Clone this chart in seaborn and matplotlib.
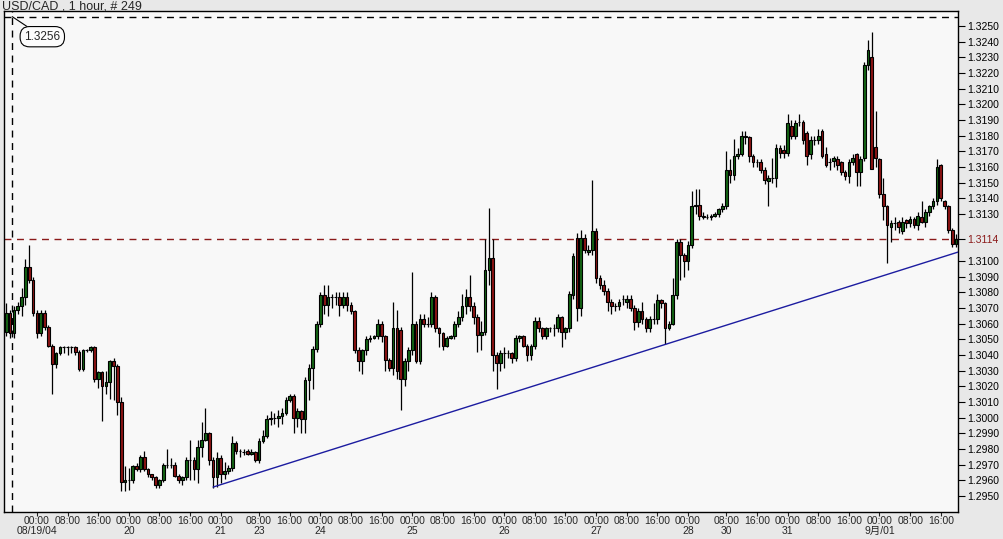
import matplotlib
matplotlib.use("Agg")
import matplotlib.pyplot as plt
import matplotlib.transforms as mtransforms
import seaborn as sns
import numpy as np
import pandas as pd

# USD/CAD 1 hour candles, prices x 10000
opens = [13055, 13067, 13054, 13069, 13071, 13077, 13096, 13088, 13067, 13054,
         13067, 13058, 13046, 13034, 13041, 13045, 13045, 13045, 13045, 13042,
         13031, 13043, 13043, 13045, 13025, 13029, 13020, 13023, 13036, 13033,
         13010, 12959, 12960, 12960, 12969, 12967, 12975, 12967, 12964, 12962,
         12957, 12960, 12970, 12970, 12970, 12963, 12960, 12962, 12973, 12973,
         12967, 12981, 12986, 12990, 12973, 12962, 12974, 12964, 12966, 12968,
         12984, 12979, 12978, 12979, 12977, 12978, 12973, 12985, 12988, 12999,
         13000, 13000, 13001, 13003, 13011, 13014, 13000, 13004, 12999, 13024,
         13032, 13044, 13060, 13078, 13072, 13077, 13077, 13077, 13072, 13077,
         13072, 13068, 13043, 13036, 13043, 13050, 13051, 13052, 13060, 13052,
         13037, 13032, 13057, 13056, 13025, 13036, 13043, 13060, 13036, 13063,
         13060, 13060, 13077, 13057, 13054, 13046, 13051, 13052, 13060, 13064,
         13071, 13077, 13071, 13064, 13053, 13055, 13094, 13102, 13040, 13035,
         13041, 13041, 13041, 13038, 13051, 13052, 13046, 13040, 13046, 13062,
         13057, 13052, 13057, 13057, 13057, 13064, 13055, 13057, 13078, 13115,
         13070, 13115, 13106, 13107, 13119, 13089, 13085, 13081, 13074, 13071,
         13071, 13076, 13074, 13076, 13070, 13061, 13068, 13063, 13057, 13063,
         13063, 13075, 13073, 13057, 13060, 13078, 13112, 13104, 13100, 13110,
         13135, 13136, 13129, 13128, 13128, 13129, 13130, 13133, 13135, 13158,
         13155, 13167, 13168, 13180, 13179, 13167, 13163, 13163, 13158, 13151,
         13153, 13153, 13172, 13171, 13169, 13186, 13180, 13189, 13189, 13182,
         13168, 13177, 13177, 13183, 13168, 13163, 13164, 13165, 13163, 13157,
         13154, 13163, 13168, 13157, 13166, 13225, 13230, 13173, 13165, 13143,
         13135, 13122, 13124, 13125, 13119, 13126, 13124, 13127, 13123, 13128,
         13125, 13131, 13135, 13138, 13161, 13138, 13135, 13120, 13111]
highs = [13073, 13069, 13071, 13074, 13083, 13101, 13110, 13090, 13069, 13069,
         13069, 13059, 13047, 13042, 13046, 13046, 13046, 13046, 13046, 13043,
         13044, 13044, 13046, 13046, 13030, 13030, 13030, 13037, 13038, 13034,
         13013, 12969, 12968, 12970, 12971, 12976, 12979, 12968, 12964, 12963,
         12961, 12971, 12980, 12974, 12972, 12964, 12963, 12975, 12986, 12975,
         12986, 12997, 13006, 12991, 12975, 12978, 12976, 12972, 12970, 12988,
         12985, 12980, 12980, 12980, 12980, 12979, 12987, 12992, 13002, 13004,
         13003, 13005, 13006, 13013, 13015, 13015, 13006, 13005, 13026, 13034,
         13046, 13062, 13080, 13085, 13085, 13079, 13080, 13080, 13080, 13080,
         13074, 13069, 13045, 13044, 13052, 13053, 13053, 13063, 13062, 13053,
         13038, 13074, 13069, 13058, 13038, 13045, 13093, 13062, 13066, 13066,
         13064, 13080, 13078, 13058, 13055, 13052, 13053, 13062, 13068, 13079,
         13082, 13091, 13074, 13066, 13062, 13114, 13134, 13114, 13042, 13043,
         13045, 13043, 13042, 13053, 13053, 13053, 13047, 13047, 13064, 13064,
         13058, 13058, 13058, 13060, 13066, 13065, 13058, 13081, 13105, 13118,
         13120, 13117, 13110, 13152, 13121, 13091, 13088, 13083, 13076, 13073,
         13076, 13078, 13078, 13078, 13072, 13070, 13074, 13064, 13065, 13073,
         13079, 13076, 13074, 13062, 13089, 13114, 13114, 13105, 13113, 13145,
         13146, 13146, 13131, 13130, 13130, 13131, 13134, 13137, 13170, 13165,
         13178, 13172, 13183, 13183, 13180, 13168, 13165, 13165, 13160, 13155,
         13166, 13175, 13174, 13174, 13194, 13190, 13190, 13194, 13190, 13183,
         13180, 13180, 13184, 13184, 13173, 13166, 13167, 13167, 13164, 13158,
         13165, 13168, 13169, 13167, 13227, 13241, 13246, 13196, 13166, 13153,
         13136, 13126, 13128, 13126, 13128, 13127, 13129, 13128, 13131, 13138,
         13133, 13136, 13140, 13165, 13162, 13139, 13136, 13121, 13117]
lows = [13052, 13051, 13051, 13066, 13065, 13072, 13086, 13065, 13051, 13052,
        13056, 13045, 13015, 13032, 13040, 13041, 13040, 13041, 13040, 13030,
        13030, 13042, 13042, 13023, 13019, 12998, 13015, 13012, 13011, 13002,
        12953, 12953, 12954, 12958, 12966, 12965, 12966, 12962, 12960, 12955,
        12955, 12959, 12968, 12968, 12962, 12958, 12957, 12960, 12960, 12960,
        12958, 12975, 12985, 12970, 12955, 12956, 12958, 12961, 12964, 12966,
        12977, 12975, 12976, 12976, 12976, 12972, 12971, 12984, 12987, 12995,
        12996, 12994, 12996, 13002, 13010, 12990, 12994, 12990, 12990, 13011,
        13018, 13042, 13058, 13066, 13065, 13070, 13072, 13065, 13070, 13068,
        13066, 13041, 13030, 13028, 13040, 13048, 13050, 13050, 13048, 13030,
        13030, 13027, 13025, 13005, 13020, 13030, 13040, 13035, 13034, 13058,
        13058, 13058, 13055, 13045, 13043, 13045, 13050, 13050, 13058, 13062,
        13066, 13068, 13060, 13042, 13043, 13053, 13085, 13030, 13018, 13030,
        13032, 13038, 13035, 13036, 13048, 13045, 13036, 13037, 13044, 13055,
        13050, 13050, 13055, 13052, 13055, 13045, 13050, 13055, 13076, 13062,
        13065, 13105, 13104, 13104, 13086, 13082, 13078, 13068, 13066, 13068,
        13069, 13072, 13070, 13068, 13056, 13058, 13060, 13055, 13055, 13060,
        13060, 13070, 13047, 13056, 13059, 13076, 13088, 13090, 13094, 13108,
        13130, 13126, 13127, 13127, 13126, 13128, 13128, 13131, 13133, 13150,
        13152, 13165, 13167, 13175, 13163, 13160, 13160, 13156, 13149, 13135,
        13150, 13147, 13166, 13166, 13167, 13178, 13178, 13186, 13175, 13161,
        13165, 13174, 13175, 13166, 13160, 13158, 13160, 13158, 13155, 13152,
        13150, 13161, 13148, 13148, 13164, 13222, 13159, 13160, 13140, 13126,
        13099, 13112, 13120, 13118, 13117, 13121, 13122, 13121, 13120, 13124,
        13122, 13129, 13133, 13136, 13138, 13133, 13118, 13109, 13109]
closes = [13067, 13054, 13069, 13071, 13077, 13096, 13088, 13067, 13054, 13067,
          13058, 13046, 13034, 13041, 13045, 13045, 13045, 13045, 13042, 13031,
          13043, 13043, 13045, 13025, 13029, 13020, 13023, 13036, 13033, 13010,
          12959, 12960, 12960, 12969, 12967, 12975, 12967, 12964, 12962, 12957,
          12960, 12970, 12970, 12970, 12963, 12960, 12962, 12973, 12973, 12967,
          12981, 12986, 12990, 12973, 12962, 12974, 12964, 12966, 12968, 12984,
          12979, 12979, 12978, 12977, 12978, 12973, 12985, 12988, 12999, 13000,
          13000, 13001, 13003, 13011, 13014, 13000, 13004, 12999, 13024, 13032,
          13044, 13060, 13078, 13072, 13077, 13077, 13077, 13072, 13077, 13072,
          13068, 13043, 13036, 13043, 13050, 13051, 13052, 13060, 13052, 13037,
          13032, 13057, 13030, 13025, 13036, 13043, 13060, 13036, 13063, 13060,
          13060, 13077, 13057, 13054, 13046, 13051, 13052, 13060, 13064, 13071,
          13077, 13071, 13064, 13053, 13055, 13094, 13102, 13040, 13035, 13041,
          13041, 13041, 13038, 13051, 13052, 13046, 13040, 13046, 13062, 13057,
          13052, 13057, 13057, 13057, 13064, 13055, 13057, 13079, 13103, 13070,
          13115, 13107, 13107, 13119, 13089, 13085, 13081, 13074, 13071, 13071,
          13074, 13076, 13076, 13070, 13061, 13068, 13063, 13057, 13063, 13063,
          13075, 13073, 13057, 13060, 13078, 13112, 13104, 13100, 13110, 13135,
          13136, 13129, 13128, 13128, 13129, 13130, 13133, 13135, 13158, 13155,
          13167, 13168, 13180, 13179, 13167, 13163, 13163, 13158, 13152, 13153,
          13153, 13172, 13169, 13169, 13188, 13180, 13188, 13189, 13177, 13167,
          13177, 13177, 13180, 13167, 13161, 13163, 13166, 13161, 13157, 13154,
          13163, 13166, 13157, 13165, 13225, 13235, 13159, 13166, 13143, 13135,
          13123, 13124, 13124, 13122, 13125, 13124, 13127, 13123, 13129, 13125,
          13131, 13135, 13138, 13160, 13140, 13135, 13120, 13111, 13114]

# x axis: bar index of each tick, hour label and date label
tick_bars = [8, 16, 24, 32, 40, 48, 56, 66, 74, 82, 90, 98, 106, 114, 122,
             130, 138, 146, 154, 162, 170, 178, 188, 196, 204, 212, 220, 228, 236, 244]
tick_times = ["00:00", "08:00", "16:00", "00:00", "08:00", "16:00", "00:00",
              "08:00", "16:00", "00:00", "08:00", "16:00", "00:00", "08:00", "16:00",
              "00:00", "08:00", "16:00", "00:00", "08:00", "16:00", "00:00",
              "08:00", "16:00", "00:00", "08:00", "16:00", "00:00", "08:00", "16:00"]
tick_dates = ["08/19/04", "", "", "20", "", "", "21", "23", "", "24", "", "",
              "25", "", "", "26", "", "", "27", "", "", "28", "30", "", "31", "", "",
              "9月/01", "", ""]

bid = 1.3114
high_mark = 1.3256
trend_bars = [54, 172]
trend_prices = [1.29557, 1.30467]

df = pd.DataFrame({"o": opens, "h": highs, "l": lows, "c": closes}) / 10000
df["i"] = np.arange(len(df))
up = df[df.c >= df.o]
down = df[df.c < df.o]

sns.set_style("white")
plt.rcParams["font.family"] = ["Liberation Sans", "DejaVu Sans", "Noto Sans CJK SC"]

fig = plt.figure(figsize=(10.04, 5.39), dpi=100, facecolor="#e8e8e8")
ax = fig.add_axes([4 / 1004, 1 - 511.5 / 539, 954 / 1004, 500.5 / 539])
ax.set_facecolor("#f8f8f8")

green = "#146414"
red = "#8c1414"
ax.vlines(df.i, df.l, df.h, color="black", lw=0.9, zorder=2)
ax.bar(up.i, up.c - up.o, bottom=up.o, width=0.7, color=green,
       edgecolor="black", linewidth=0.8, zorder=3)
ax.bar(down.i, down.o - down.c, bottom=down.c, width=0.7, color=red,
       edgecolor="black", linewidth=0.8, zorder=3)

xmin, xmax = -0.6, 248.5
# trend line through two lows, extended to the right edge
slope = (trend_prices[1] - trend_prices[0]) / (trend_bars[1] - trend_bars[0])
tx = [trend_bars[0], xmax]
ty = [trend_prices[0], trend_prices[0] + slope * (xmax - trend_bars[0])]
sns.lineplot(x=tx, y=ty, ax=ax, color="#1c1ca0", lw=1, zorder=4)

ax.axhline(bid, color="#8b1a1a", lw=1, ls=(0, (5, 4)), zorder=1)
ax.axhline(high_mark, color="black", lw=1, ls=(0, (5, 4)), zorder=1)
ax.axvline(1.55, color="black", lw=1, ls=(0, (5, 4)), zorder=1)
ax.annotate(f"{high_mark:.4f}", xy=(1.55, high_mark), xytext=(9.4, 1.32432),
            ha="center", va="center", fontsize=8.5,
            bbox=dict(boxstyle="round,pad=0.35,rounding_size=0.8", fc="#fcfcfc", ec="black", lw=0.8),
            arrowprops=dict(arrowstyle="-", color="black", lw=0.8, shrinkA=0, shrinkB=0))

ax.set_xlim(xmin, xmax)
ax.set_ylim(1.29401, 1.32596)

yt = [v / 10000 for v in range(12950, 13101, 10)] + [bid] + [v / 10000 for v in range(13130, 13251, 10)]
ax.yaxis.tick_right()
ax.set_yticks(yt)
ax.set_yticklabels([f"{v:.4f}" for v in yt])
ax.tick_params(axis="y", right=True, length=5, width=0.8, pad=1.5, labelsize=7.5, colors="black")
for lab, v in zip(ax.get_yticklabels(), yt):
    if v == bid:
        lab.set_color("#8b1a1a")

ax.set_xticks(tick_bars)
ax.set_xticklabels(tick_times)
ax.tick_params(axis="x", bottom=True, length=3, width=0.8, pad=0.3, labelsize=7.5)

# date row under the hour labels
trans = mtransforms.blended_transform_factory(ax.transData, ax.transAxes)
for b, d in zip(tick_bars, tick_dates):
    if d:
        ax.text(b, -(530.5 - 511.5) / 500.5, d, transform=trans, ha="center", va="center",
                fontsize=7.5, clip_on=False)

for s in ax.spines.values():
    s.set_color("black")
    s.set_linewidth(1)

fig.text(2 / 1004, 1 - 6.5 / 539, "USD/CAD , 1 hour, # 249", fontsize=9, va="center", ha="left")

fig.savefig("out.png", dpi=100, facecolor=fig.get_facecolor())
